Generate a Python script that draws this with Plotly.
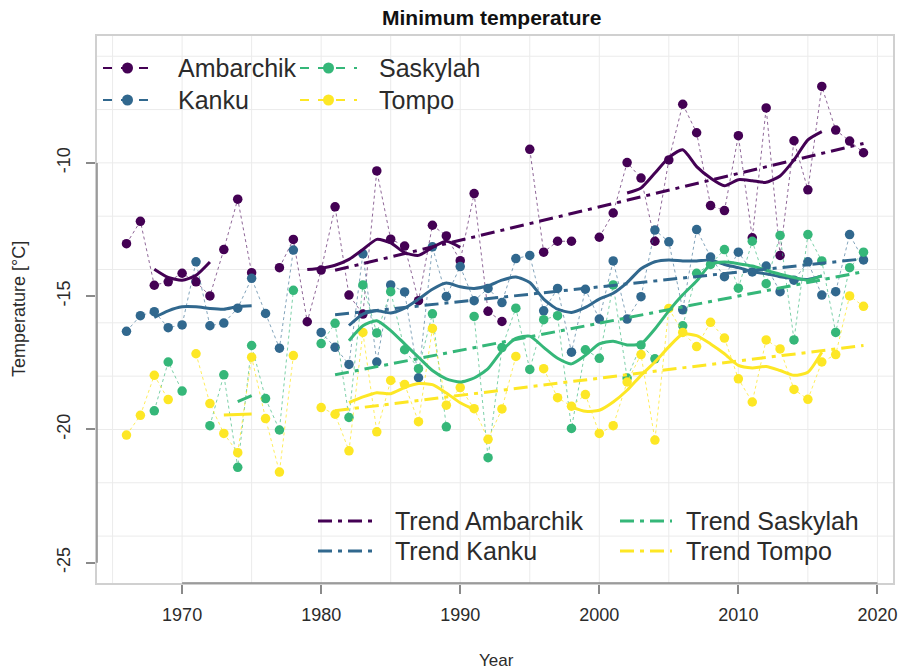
import plotly.graph_objects as go

# ---- data ----
YEARS = list(range(1966, 2020))

AMBARCHIK = [
    -13.03, -12.19, -14.59, -14.46, -14.14, -14.46, -14.99, -13.25, -11.36, -14.12,   # 1966-1975
    None, -13.93, -12.87, -15.96, -14.02, -11.65, -14.96, -15.67, -10.30, -12.86,    # 1976-1985
    -13.12, -15.17, -12.34, -12.74, -13.67, -11.15, -15.57, -15.95, None, -9.49,     # 1986-1995
    -13.35, -12.94, -12.94, None, -12.79, -11.88, -9.99, -10.57, -12.94, -9.89,      # 1996-2005
    -7.80, -8.87, -11.60, -11.79, -8.98, -12.81, -7.94, -13.47, -9.17, -11.01,       # 2006-2015
    -7.13, -8.77, -9.18, -9.62,                                                      # 2016-2019
]
KANKU = [
    -16.32, -15.73, -15.58, -16.18, -16.08, -13.71, -16.11, -16.01, -15.45, -14.33,
    -15.65, -16.95, -13.27, None, -16.36, -16.92, -17.56, -13.41, -17.47, -14.58,
    -14.84, -18.06, -13.15, -15.01, -13.89, -15.17, -14.71, -15.24, -13.59, -13.47,
    -15.55, -14.71, -17.10, -14.74, -15.86, -13.68, -15.86, -15.02, -12.52, -12.96,
    -15.51, -12.50, -13.53, -14.27, -13.35, -14.09, -13.87, -14.83, -14.40, -13.71,
    -14.96, -14.83, -12.69, -13.64,
]
SASKYLAH = [
    None, None, -19.30, -17.47, -18.56, None, -19.86, -17.95, -21.42, -16.85,
    -18.84, -20.02, -14.78, None, -16.78, -16.02, -19.55, -14.58, -16.38, -14.83,
    -17.01, -17.72, -15.66, -19.90, None, -15.76, -21.06, -16.93, -15.45, -17.75,
    -15.88, -15.73, -19.96, -17.01, -17.33, -14.58, -18.07, -16.83, -17.35, None,
    -16.11, -14.14, -13.81, -13.25, -14.70, -12.94, -14.53, -12.72, -16.64, -12.69,
    -13.68, -16.36, -13.93, -13.35,
]
TOMPO = [
    -20.21, -19.47, -17.97, -18.88, None, -17.16, -19.03, -20.15, -20.87, -17.29,
    -19.59, -21.60, -17.23, None, -19.18, -19.43, -20.80, -16.36, -20.09, -18.16,
    -18.31, -19.71, -16.21, -19.09, -18.43, -19.22, -20.37, -19.23, -17.26, None,
    -17.72, -18.81, -19.13, -18.69, -20.15, -19.86, -18.22, -17.19, -20.40, -15.46,
    -16.36, -16.89, -15.98, -16.57, -18.10, -18.97, -16.64, -16.98, -18.50, -18.87,
    -17.47, -17.19, -14.99, -15.38,
]

# smoothed curves: (first year, values) segments
AMBARCHIK_SMOOTH = [
    (1968, [-13.99, -14.30, -14.40, -14.22, -13.72]),
    (1979, [-14.00, -13.95, -13.84, -13.62, -13.25, -12.87, -13.00, -13.37, -13.47,
            -13.17, -12.94, -13.17]),
    (2002, [-11.13, -10.94, -10.38, -9.80, -9.51, -10.14, -10.57, -10.86, -10.63,
            -10.67, -10.73, -10.49, -9.89, -9.14, -8.83]),
]
KANKU_SMOOTH = [
    (1968, [-15.80, -15.55, -15.40, -15.40, -15.46, -15.49, -15.39, -15.36]),
    (1982, [-16.10, -15.67, -15.55, -15.63, -15.45, -15.11, -14.74, -14.51, -14.65,
            -14.71, -14.61, -14.40, -14.28, -14.49, -15.11, -15.49, -15.61, -15.42,
            -15.11, -14.89, -14.49, -13.97, -13.71, -13.64, -13.68, -13.68, -13.64,
            -13.81, -13.93, -14.08, -14.16, -14.27, -14.34, -14.37, -14.24]),
]
SASKYLAH_SMOOTH = [
    (1974, [-18.96, -18.73]),
    (1982, [-16.67, -16.11, -15.92, -16.29, -16.79, -17.29, -17.79, -18.10, -18.22,
            -18.07, -17.72, -17.05, -16.58, -16.50, -16.92, -17.33, -17.54, -17.22,
            -16.79, -16.69, -16.83, -16.79, -16.23, -15.55, -14.95, -14.43, -13.81,
            -13.72, -13.78, -13.87, -14.03, -14.18, -14.30, -14.40, -14.24]),
]
TOMPO_SMOOTH = [
    (1973, [-19.46, -19.44, -19.42]),
    (1982, [-18.99, -18.78, -18.62, -18.66, -18.43, -18.28, -18.32, -18.63, -19.00,
            -19.25]),
    (1998, [-19.15, -19.32, -19.28, -18.97, -18.53, -17.97, -17.47, -16.90, -16.42,
            -16.48, -16.79, -17.16, -17.60, -17.69, -17.64, -17.79, -17.97, -17.85,
            -17.10]),
]

# linear trends (start / end)
TREND_YEARS = [1981, 2019]
AMBARCHIK_TREND = [-14.03, -9.27]
KANKU_TREND = [-15.70, -13.60]
SASKYLAH_TREND = [-17.95, -14.08]
TOMPO_TREND = [-19.30, -16.85]

NAMES = ["Ambarchik", "Kanku", "Saskylah", "Tompo"]
COLORS = ["#440154", "#31688E", "#35B779", "#FDE725"]
DOT_COLORS = ["rgba(68,1,84,0.6)", "rgba(49,104,142,0.6)",
              "rgba(53,183,121,0.65)", "rgba(253,231,37,0.75)"]
SERIES = [AMBARCHIK, KANKU, SASKYLAH, TOMPO]
SMOOTHS = [AMBARCHIK_SMOOTH, KANKU_SMOOTH, SASKYLAH_SMOOTH, TOMPO_SMOOTH]
TRENDS = [AMBARCHIK_TREND, KANKU_TREND, SASKYLAH_TREND, TOMPO_TREND]

X_TICKS = [1970, 1980, 1990, 2000, 2010, 2020]
Y_TICKS = [-25, -20, -15, -10]
Y_TICK_LABELS = ["-25", "-20", "-15", "-10"]
X_GRID = list(range(1965, 2021, 5))
Y_GRID = list(range(-24, -5, 2))

FONT = "Liberation Sans, Arial, Helvetica, sans-serif"
TXT = "#2b2b2b"
TREND_DASH = "14px,6px,4px,6px"

W, H = 898, 671
L, R, T, B = 97, 5, 36, 88
PW, PH = W - L - R, H - T - B


def px(x):
    # pixel -> paper fraction
    return (x - L) / PW


def py(y):
    return (H - B - y) / PH


fig = go.Figure()

# points joined by dotted lines
for name, color, dcol, vals in zip(NAMES, COLORS, DOT_COLORS, SERIES):
    fig.add_trace(go.Scatter(
        x=YEARS, y=vals, mode="lines+markers", name=name,
        line=dict(color=dcol, width=1, dash="dot"),
        marker=dict(color=color, size=9.5),
        showlegend=False, connectgaps=False,
    ))

# smoothed curves
for name, color, segs in zip(NAMES, COLORS, SMOOTHS):
    for start, vals in segs:
        fig.add_trace(go.Scatter(
            x=list(range(start, start + len(vals))), y=vals, mode="lines",
            line=dict(color=color, width=3, shape="spline", smoothing=0.6),
            showlegend=False, hoverinfo="skip",
        ))

# trend lines
for name, color, tr in zip(NAMES, COLORS, TRENDS):
    fig.add_trace(go.Scatter(
        x=TREND_YEARS, y=tr, mode="lines", name="Trend " + name,
        line=dict(color=color, width=3, dash=TREND_DASH),
        showlegend=False,
    ))

shapes = []
# grid
for gx in X_GRID:
    shapes.append(dict(type="line", xref="x", yref="paper", x0=gx, x1=gx, y0=0, y1=1,
                       line=dict(color="#EBEBEB", width=1), layer="below"))
for gy in Y_GRID:
    shapes.append(dict(type="line", xref="paper", yref="y", x0=0, x1=1, y0=gy, y1=gy,
                       line=dict(color="#EBEBEB", width=1), layer="below"))
# axis lines spanning the ticks
shapes.append(dict(type="line", xref="x", yref="paper", x0=X_TICKS[0], x1=X_TICKS[-1],
                   y0=0, y1=0, line=dict(color="#8A8A8A", width=1.5)))
shapes.append(dict(type="line", xref="paper", yref="y", x0=0, x1=0,
                   y0=Y_TICKS[0], y1=Y_TICKS[-1], line=dict(color="#8A8A8A", width=1.5)))

annotations = []


def legend_item(x_line0, x_line1, x_text, y, color, label, dash, width, marker):
    shapes.append(dict(type="line", xref="paper", yref="paper",
                       x0=px(x_line0), x1=px(x_line1), y0=py(y), y1=py(y),
                       line=dict(color=color, width=width, dash=dash)))
    if marker:
        cx, r = (x_line0 + x_line1) / 2, 5.5
        shapes.append(dict(type="circle", xref="paper", yref="paper",
                           x0=px(cx - r), x1=px(cx + r), y0=py(y + r), y1=py(y - r),
                           fillcolor=color, line=dict(color=color, width=0)))
    annotations.append(dict(xref="paper", yref="paper", x=px(x_text), y=py(y),
                            xanchor="left", yanchor="middle", text=label, showarrow=False,
                            font=dict(family=FONT, size=25, color=TXT)))


# top-left legend (points)
legend_pos = [(103, 152, 176, 68), (103, 152, 176, 100), (300, 357, 377, 68), (300, 357, 377, 100)]
for (a, b, t, y), name, color in zip(legend_pos, NAMES, COLORS):
    legend_item(a, b, t, y, color, name, "dash", 2, True)

# bottom-right legend (trends)
trend_pos = [(318, 378, 393, 521), (318, 378, 393, 551), (620, 672, 684, 521), (620, 672, 684, 551)]
for (a, b, t, y), name, color in zip(trend_pos, NAMES, COLORS):
    legend_item(a, b, t, y, color, "Trend " + name, TREND_DASH, 3, False)

# titles
annotations.append(dict(xref="paper", yref="paper", x=px(491), y=py(18), xanchor="center",
                        yanchor="middle", text="<b>Minimum temperature</b>", showarrow=False,
                        font=dict(family=FONT, size=21, color="#111")))
annotations.append(dict(xref="paper", yref="paper", x=px(19), y=py(309), xanchor="center",
                        yanchor="middle", text="Temperature [°C]", textangle=-90,
                        showarrow=False, font=dict(family=FONT, size=18, color=TXT)))
annotations.append(dict(xref="paper", yref="paper", x=px(496), y=py(660), xanchor="center",
                        yanchor="middle", text="Year", showarrow=False,
                        font=dict(family=FONT, size=17, color=TXT)))

fig.update_layout(
    width=W, height=H,
    margin=dict(l=L, r=R, t=T, b=B, autoexpand=False),
    paper_bgcolor="white", plot_bgcolor="white",
    font=dict(family=FONT, color=TXT),
    xaxis=dict(
        range=[1963.88, 2021.12], tickvals=X_TICKS, ticks="outside", ticklen=9,
        tickcolor="#8A8A8A", tickwidth=1.5, tickfont=dict(size=18, color=TXT),
        ticklabelstandoff=6, showgrid=False, zeroline=False, automargin=False,
        showline=True, linecolor="#D0D0D0", linewidth=1.5, mirror=True,
    ),
    yaxis=dict(
        range=[-25.76, -5.24], tickvals=Y_TICKS, ticktext=Y_TICK_LABELS,
        ticks="outside", ticklen=9,
        tickcolor="#8A8A8A", tickwidth=1.5, tickangle=-90, tickfont=dict(size=18, color=TXT),
        ticklabelstandoff=9, showgrid=False, zeroline=False, automargin=False,
        showline=True, linecolor="#D0D0D0", linewidth=1.5, mirror=True,
    ),
    shapes=shapes,
    annotations=annotations,
    showlegend=False,
)

# drop the default page margin so the figure fills the window exactly
fig.write_html("out.html", config={"displayModeBar": False},
               post_script="document.body.style.margin='0';document.body.style.overflow='hidden';")
